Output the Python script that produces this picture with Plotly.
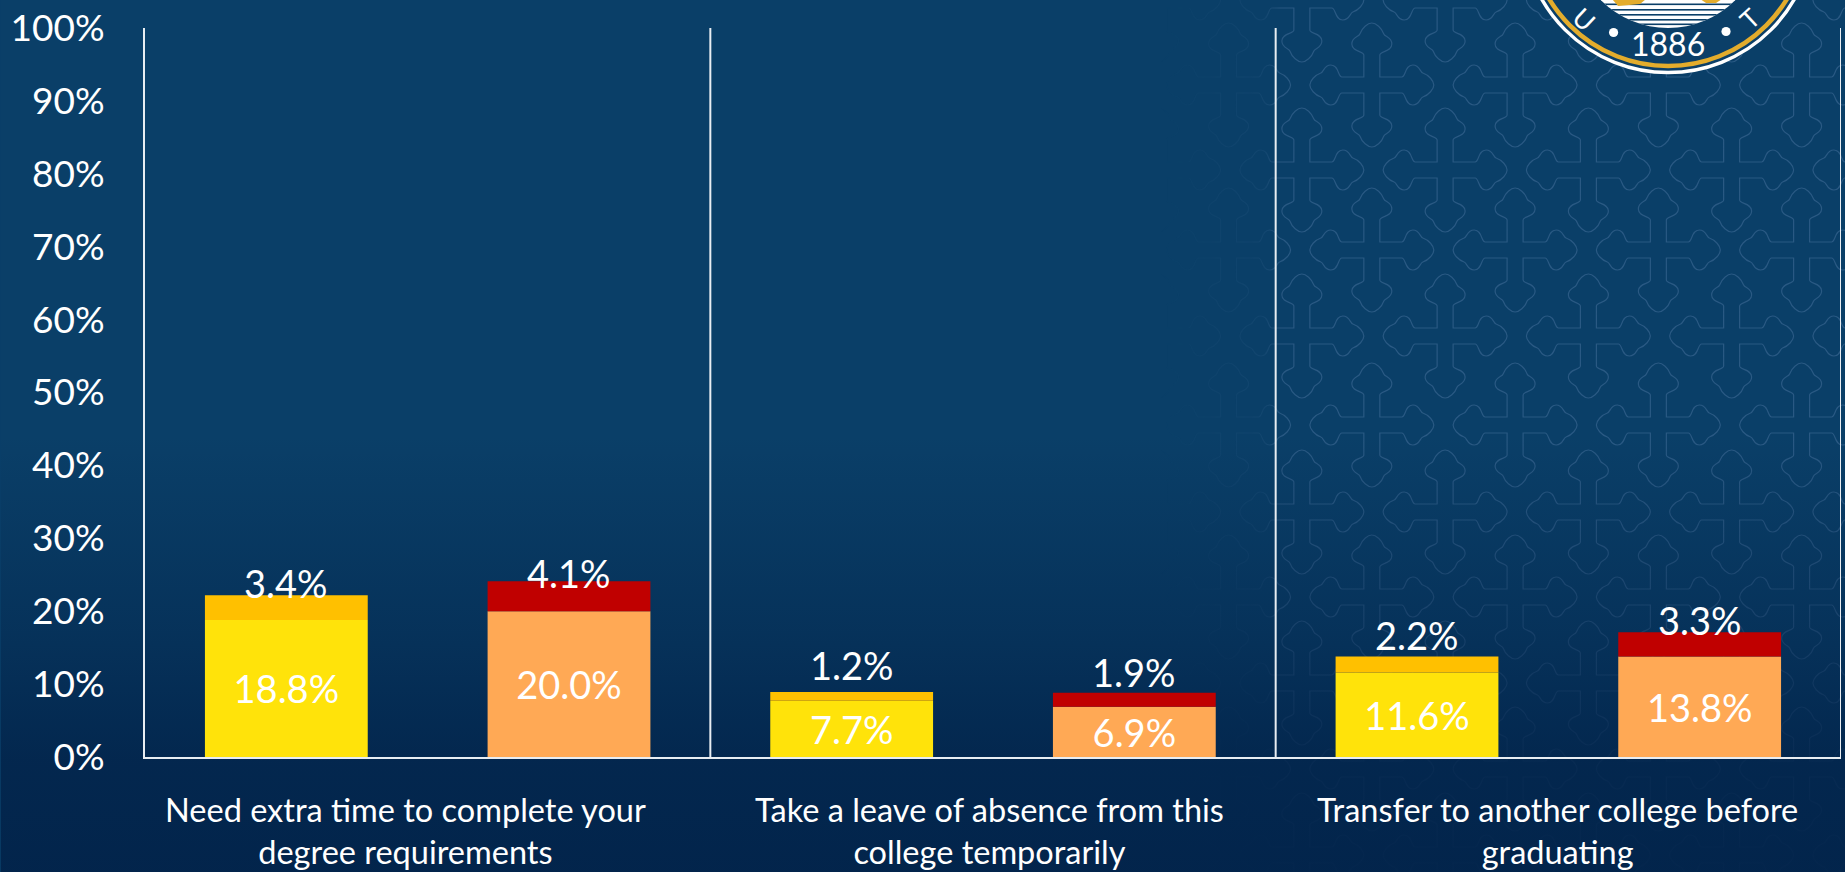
import base64
import math
import plotly.graph_objects as go

# ---- data ----
categories = [
    "Need extra time to complete your<br>degree requirements",
    "Take a leave of absence from this<br>college temporarily",
    "Transfer to another college before<br>graduating",
]
yellow_values = [18.8, 7.7, 11.6]
gold_values = [3.4, 1.2, 2.2]
orange_values = [20.0, 6.9, 13.8]
red_values = [4.1, 1.9, 3.3]
y_ticks = list(range(0, 101, 10))
y_tick_labels = [f"{v}%" for v in y_ticks]

# ---- style / layout ----
W, H = 1845, 872
L, R, T, B = 144.5, 1841, 28, 757
FONT = "Lato, 'Open Sans', sans-serif"
WHITE = "#ffffff"
AXIS = "#e8edf2"
TICK_SIZE = 37
LABEL_SIZE = 38
CAT_SIZE = 32.5
x_label_shift = [-22, -4, -1]
lift_gold = [12, 27, 21]
lift_red = [8, 21, 12]


def px(x):
    return (x - L) / (R - L)


def py(y):
    return (B - y) / (B - T)


def cross_path(cx, cy):
    arm = [
        ("L", (8, -30)),
        ("C", (8, -34), (20, -33), (20, -41)),
        ("C", (20, -48), (13, -48), (12, -51)),
        ("C", (10, -57), (4, -62), (0, -62)),
        ("C", (-4, -62), (-10, -57), (-12, -51)),
        ("C", (-13, -48), (-20, -48), (-20, -41)),
        ("C", (-20, -33), (-8, -34), (-8, -30)),
        ("L", (-8, -8)),
    ]
    d = f"M{cx + 8:.1f},{cy - 8:.1f}"
    for k in range(4):
        c, s = math.cos(-k * math.pi / 2), math.sin(-k * math.pi / 2)
        for seg in arm:
            pts = [(cx + c * p[0] - s * p[1], cy + s * p[0] + c * p[1]) for p in seg[1:]]
            d += seg[0] + " ".join(f"{a:.1f},{b:.1f}" for a, b in pts)
    return d + "Z"


rows_a = [85, 250, 425, 597, 769]
rows_b = [0, 170, 336, 512, 683, 855]
paths = []
for rows, x0 in ((rows_a, 1371.7), (rows_b, 1301.7)):
    for yy in rows:
        for k in range(-2, 5):
            paths.append(cross_path(x0 + 143.3 * k, yy))
pattern = "".join(paths)

stripes = "".join(
    f'<rect x="1560" y="{y}" width="220" height="1.6" fill="#0b3f68"/>' for y in (3.5, 9, 14, 19, 23.5)
)
svg = f'''<svg xmlns="http://www.w3.org/2000/svg" width="{W}" height="{H}" viewBox="0 0 {W} {H}">
<defs>
<linearGradient id="fade" gradientUnits="userSpaceOnUse" x1="1160" y1="0" x2="1300" y2="0">
<stop offset="0" stop-color="#000"/><stop offset="0.75" stop-color="#444"/><stop offset="0.86" stop-color="#eee"/><stop offset="1" stop-color="#fff"/>
</linearGradient>
<mask id="m" maskUnits="userSpaceOnUse" x="0" y="0" width="{W}" height="{H}"><rect width="{W}" height="{H}" fill="url(#fade)"/></mask>
<linearGradient id="dark" x1="0" y1="0" x2="0" y2="1">
<stop offset="0.5" stop-color="#02234a" stop-opacity="0"/>
<stop offset="0.72" stop-color="#02234a" stop-opacity="0.45"/>
<stop offset="0.87" stop-color="#02234a" stop-opacity="0.85"/>
<stop offset="1" stop-color="#02234a" stop-opacity="0.95"/>
</linearGradient>
<clipPath id="inner"><circle cx="1668" cy="-67" r="95"/></clipPath>
</defs>
<rect width="{W}" height="{H}" fill="#0a3f68"/>
<path d="{pattern}" fill="none" stroke="#3f6b96" stroke-opacity="0.6" stroke-width="1.2" mask="url(#m)"/>
<rect width="{W}" height="{H}" fill="url(#dark)"/>
<circle cx="1668" cy="-73" r="145.5" fill="#0b3f68" stroke="#ffffff" stroke-width="3.5"/>
<circle cx="1668" cy="-73" r="139" fill="none" stroke="#e3ac2c" stroke-width="4.5"/>
<g clip-path="url(#inner)"><rect x="1560" y="-10" width="220" height="50" fill="#ffffff"/>{stripes}
<path d="M1612,-1 L1618,6 L1640,4 L1646,-1Z" fill="#e3ac2c"/>
<path d="M1700,-1 L1706,3 L1716,3 L1722,-1Z" fill="#e3ac2c"/></g>
<circle cx="1613.5" cy="32.5" r="4.6" fill="#ffffff"/>
<circle cx="1726" cy="31.5" r="4.6" fill="#ffffff"/>
</svg>'''
bg_uri = "data:image/svg+xml;base64," + base64.b64encode(svg.encode()).decode()

fig = go.Figure()
fmt = lambda vals: [f"{v:.1f}%" for v in vals]
common = dict(x=categories, hoverinfo="skip", marker_line_width=0)
fig.add_bar(y=yellow_values, offsetgroup="a", marker_color="#FFE30A", text=fmt(yellow_values),
            textposition="inside", insidetextanchor="middle", textangle=0, constraintext="none",
            textfont=dict(color=WHITE, size=LABEL_SIZE, family=FONT), name="A", **common)
fig.add_bar(y=gold_values, base=yellow_values, offsetgroup="a", marker_color="#FFC000", name="A top", **common)
fig.add_bar(y=orange_values, offsetgroup="b", marker_color="#FFA955", text=fmt(orange_values),
            textposition="inside", insidetextanchor="middle", textangle=0, constraintext="none",
            textfont=dict(color=WHITE, size=LABEL_SIZE, family=FONT), name="B", **common)
fig.add_bar(y=red_values, base=orange_values, offsetgroup="b", marker_color="#C00000", name="B top", **common)

annotations = []
for i in range(len(categories)):
    annotations.append(dict(x=i - 0.25, y=yellow_values[i] + gold_values[i], xref="x", yref="y",
                            text=f"{gold_values[i]:.1f}%", showarrow=False, yanchor="middle",
                            yshift=lift_gold[i], font=dict(color=WHITE, size=LABEL_SIZE, family=FONT)))
    annotations.append(dict(x=i + 0.25, y=orange_values[i] + red_values[i], xref="x", yref="y",
                            text=f"{red_values[i]:.1f}%", showarrow=False, yanchor="middle",
                            yshift=lift_red[i], font=dict(color=WHITE, size=LABEL_SIZE, family=FONT)))
    annotations.append(dict(x=i, y=py(830), xref="x", yref="paper", text=categories[i], showarrow=False,
                            yanchor="middle", xanchor="center", align="center", xshift=x_label_shift[i],
                            font=dict(color=WHITE, size=CAT_SIZE, family=FONT)))

seal_text = dict(xref="paper", yref="paper", showarrow=False, xanchor="center", yanchor="middle")
annotations += [
    dict(x=px(1668), y=py(43), text="1886", font=dict(color=WHITE, size=32, family=FONT), **seal_text),
    dict(x=px(1584), y=py(19), text="U", textangle=43, font=dict(color=WHITE, size=26, family=FONT), **seal_text),
    dict(x=px(1749), y=py(19), text="T", textangle=-43, font=dict(color=WHITE, size=26, family=FONT), **seal_text),
]

shapes = [
    dict(type="line", x0=v, x1=v, y0=0, y1=1, xref="x", yref="paper", layer="above",
         line=dict(color=AXIS, width=2))
    for v in (0.5, 1.5, 2.5)
]

fig.update_layout(
    width=W, height=H, autosize=False,
    margin=dict(l=L, r=W - R, t=T, b=H - B, pad=0),
    barmode="group", bargap=0, bargroupgap=0.424,
    showlegend=False,
    paper_bgcolor="#0a3f68", plot_bgcolor="rgba(0,0,0,0)",
    font=dict(family=FONT, color=WHITE),
    images=[dict(source=bg_uri, xref="paper", yref="paper", x=px(0), y=py(0),
                 sizex=W / (R - L), sizey=H / (B - T), xanchor="left", yanchor="top",
                 sizing="stretch", layer="below")],
    annotations=annotations,
    shapes=shapes,
    xaxis=dict(type="category", range=[-0.5, 2.5], showgrid=False, zeroline=False, showticklabels=False,
               ticks="", showline=True, linecolor=AXIS, linewidth=2, fixedrange=True),
    yaxis=dict(range=[0, 100], tickmode="array", tickvals=y_ticks, ticktext=y_tick_labels, showgrid=False,
               zeroline=False, showline=True, linecolor=AXIS, linewidth=2, ticks="", ticklabelstandoff=31,
               tickfont=dict(color=WHITE, size=TICK_SIZE, family=FONT), fixedrange=True),
)

fig.write_html("out.html", config=dict(displayModeBar=False),
               post_script="document.body.style.margin='0';document.body.style.overflow='hidden';")
